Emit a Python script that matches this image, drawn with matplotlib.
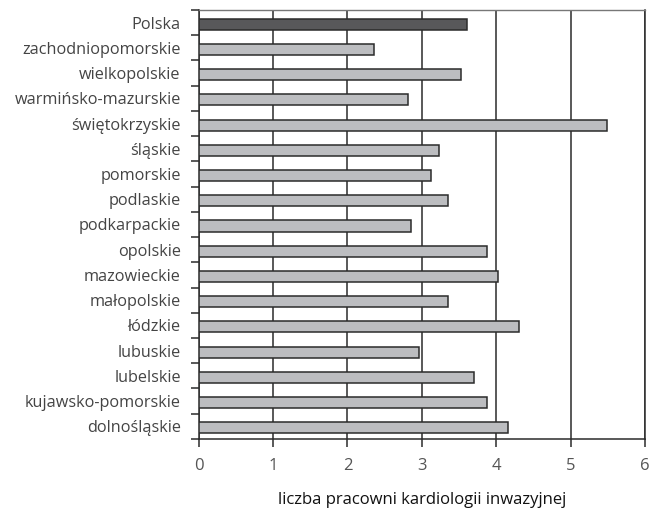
import matplotlib.pyplot as plt
import numpy as np

regions = ["Polska", "zachodniopomorskie", "wielkopolskie", "warmińsko-mazurskie",
           "świętokrzyskie", "śląskie", "pomorskie", "podlaskie", "podkarpackie",
           "opolskie", "mazowieckie", "małopolskie", "łódzkie", "lubuskie",
           "lubelskie", "kujawsko-pomorskie", "dolnośląskie"]
values = [3.61, 2.36, 3.53, 2.81, 5.49, 3.23, 3.13, 3.35, 2.85,
          3.87, 4.03, 3.35, 4.31, 2.96, 3.70, 3.87, 4.16]
xlabel = "liczba pracowni kardiologii inwazyjnej"

plt.rcParams['font.family'] = ['Open Sans', 'DejaVu Sans']

fig = plt.figure(figsize=(6.54, 5.14), dpi=100)
ax = fig.add_axes([0.304, 0.146, 0.682, 0.8345])

n = len(regions)
pos = np.arange(n)[::-1]
colors = ["#58585a"] + ["#bcbdc0"] * (n - 1)
ax.barh(pos - 0.06, values, height=0.44, color=colors, edgecolor="#2b2b2b",
        linewidth=1.1, zorder=3)

ax.set_xlim(0, 6)
ax.set_ylim(-0.5, n - 0.5)
ax.set_xticks(range(7))
ax.grid(axis="x", color="#2b2b2b", linewidth=1.1, zorder=0)

# ticks at category boundaries, labels at centres
ax.set_yticks(np.arange(-0.5, n, 1.0))
ax.set_yticklabels([])
ax.set_yticks(pos, minor=True)
ax.set_yticklabels(regions, minor=True)
ax.tick_params(axis="y", which="minor", length=0, pad=13, labelsize=11.7,
               labelcolor="#444444")
ax.tick_params(axis="y", which="major", length=6, width=1.1, color="#2b2b2b")
ax.tick_params(axis="x", length=6, width=1.1, color="#2b2b2b", labelsize=12,
               labelcolor="#555555", pad=8)

for side in ["left", "bottom", "right"]:
    ax.spines[side].set_color("#2b2b2b")
    ax.spines[side].set_linewidth(1.1)
ax.spines["top"].set_color("#777777")
ax.spines["top"].set_linewidth(1.0)

ax.set_xlabel(xlabel, fontsize=12, color="#111111", labelpad=13)

fig.savefig("out.png", dpi=100)
